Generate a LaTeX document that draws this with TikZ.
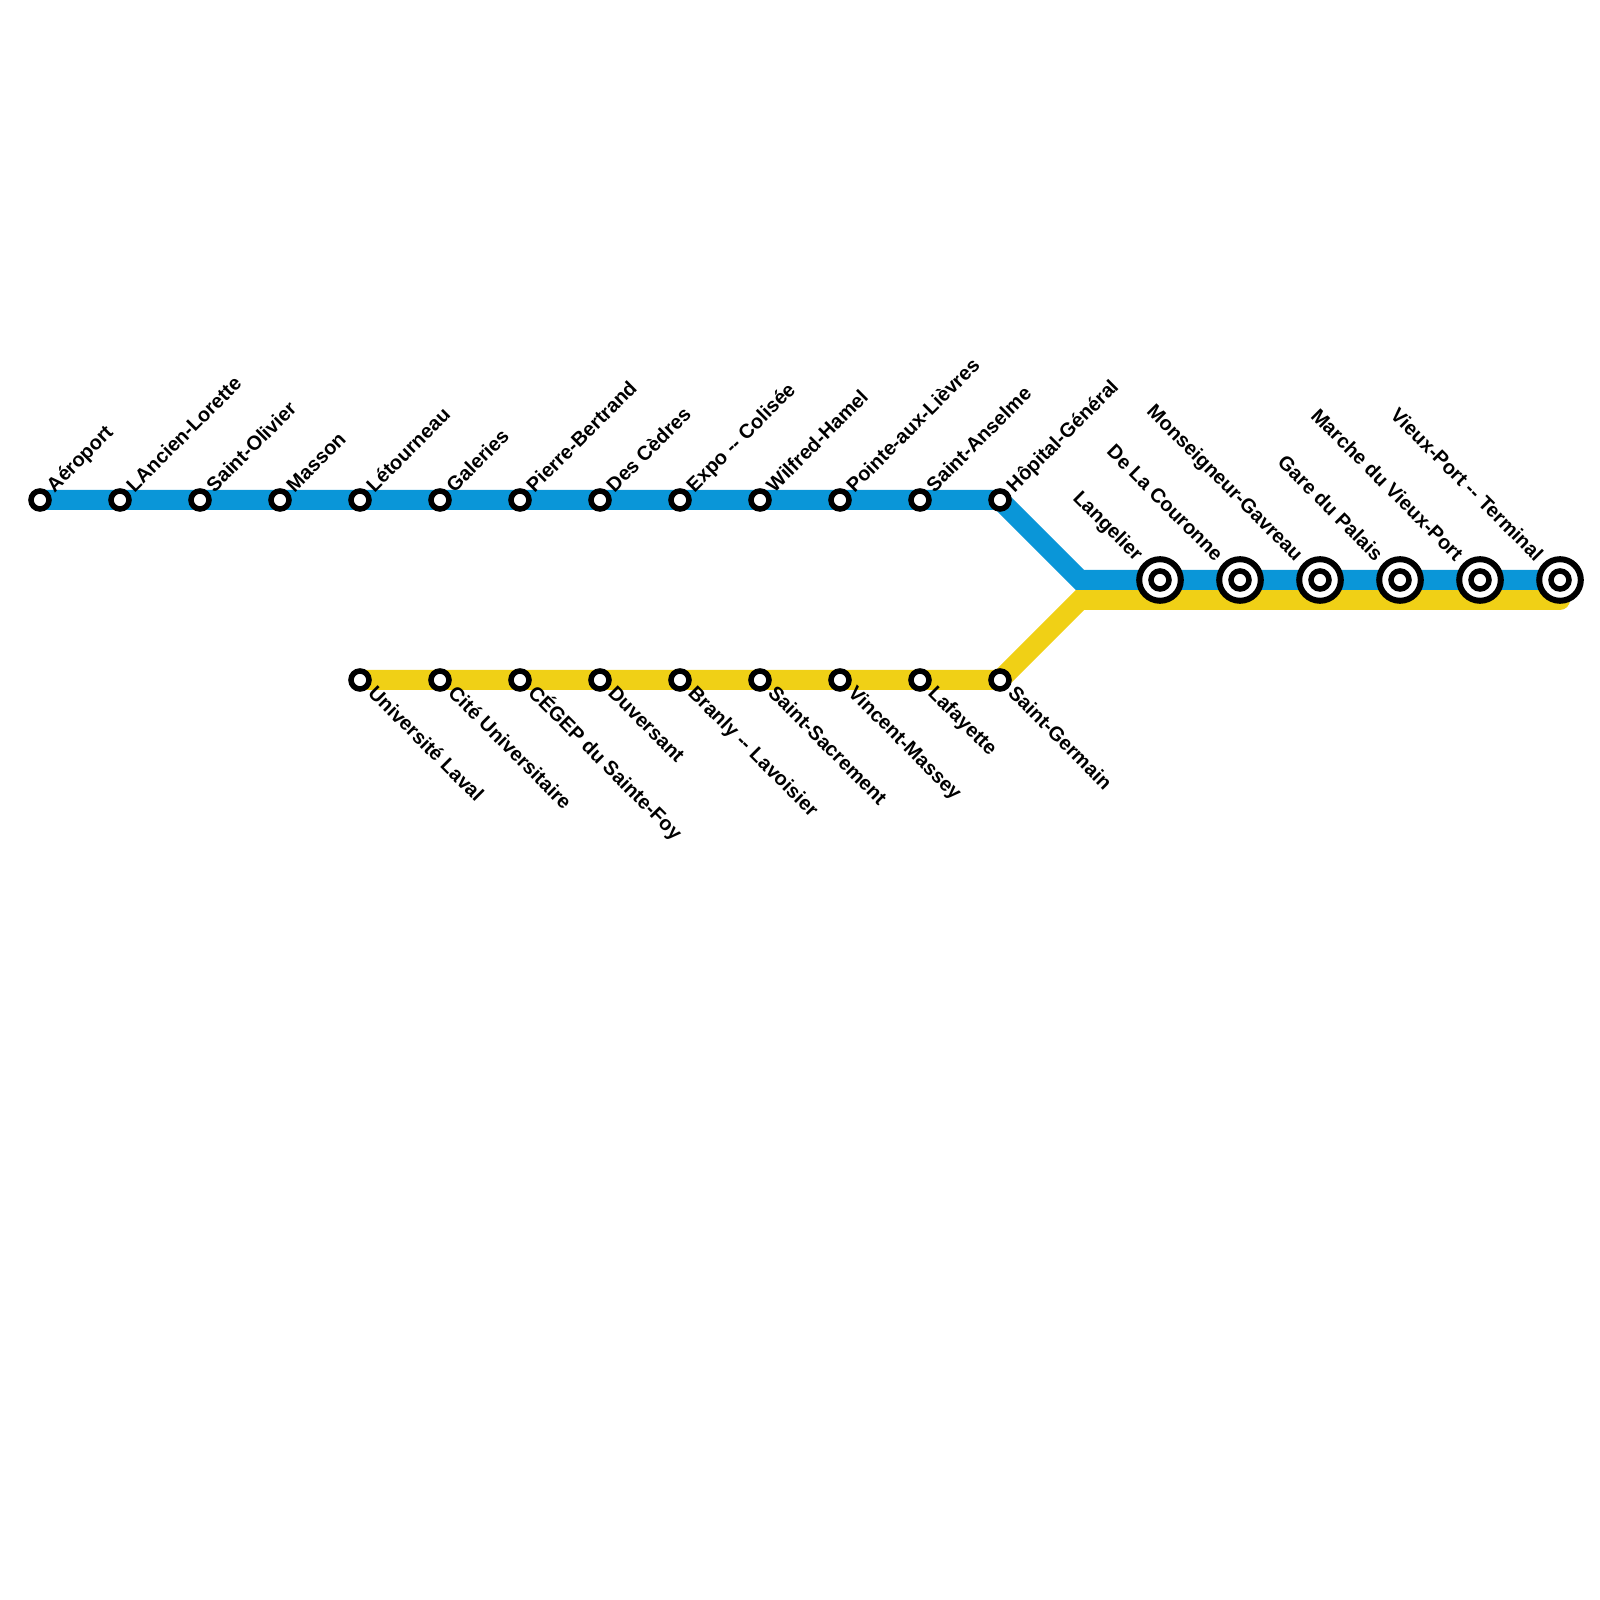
\documentclass[tikz,border=0pt]{standalone}
\usepackage{fontspec}
\setmainfont{Liberation Sans}
\usetikzlibrary{backgrounds}
\definecolor{lineblue}{HTML}{0A96D8}
\definecolor{lineyellow}{HTML}{F0D016}

\begin{document}
\begin{tikzpicture}[font=\fontsize{7.1}{8}\selectfont\bfseries,
  stop/.style={circle, draw=black, line width=0.069cm, fill=white, minimum size=0.225cm, inner sep=0pt},
  hub/.style={circle, draw=black, line width=0.075cm, fill=white, minimum size=0.52cm, inner sep=0pt},
  route/.style={line width=0.25cm, line cap=round, line join=miter},
  up/.style={rotate=45, anchor=base west, inner sep=0pt},
  down/.style={rotate=-45, anchor=base west, inner sep=0pt},
  back/.style={rotate=-45, anchor=base east, inner sep=0pt},
]
\useasboundingbox (0, 0) rectangle (20, 20);
% upper branch
\foreach \i/\name in {0/Aéroport, 1/LAncien-Lorette, 2/Saint-Olivier, 3/Masson,
    4/Létourneau, 5/Galeries, 6/Pierre-Bertrand, 7/Des Cèdres, 8/Expo -{}- Colisée,
    9/Wilfred-Hamel, 10/Pointe-aux-Lièvres, 11/Saint-Anselme, 12/Hôpital-Général} {
  \node[stop] (b\i) at (\i+0.5, 13.75) {};
  \node[up] (bl\i) at (\i+0.677, 13.83) {\name};
}
% lower branch
\foreach \i/\name in {4/Université Laval, 5/Cité Universitaire, 6/CÉGEP du Sainte-Foy,
    7/Duversant, 8/Branly -{}- Lavoisier, 9/Saint-Sacrement, 10/Vincent-Massey,
    11/Lafayette, 12/Saint-Germain} {
  \node[stop] (y\i) at (\i+0.5, 11.5) {};
  \node[down] (yl\i) at (\i+0.585, 11.325) {\name};
}
% shared section
\foreach \i/\name in {14/Langelier, 15/De La Couronne, 16/Monseigneur-Gavreau,
    17/Gare du Palais, 18/Marche du Vieux-Port, 19/Vieux-Port -{}- Terminal} {
  \node[hub] (t\i) at (\i+0.5, 12.75) {};
  \node[stop] (c\i) at (\i+0.5, 12.75) {};
  \node[back] (tl\i) at (\i+0.19, 12.97) {\name};
}
\coordinate (bj) at (13.5, 12.75);
\coordinate (yj) at (13.5, 12.5);
\coordinate (ye) at (19.5, 12.5);
\begin{scope}[on background layer]
\draw[route, lineyellow] (y4.center) -- (y12.center) -- (yj) -- (ye);
\draw[route, lineblue] (b0.center) -- (b12.center) -- (bj) -- (t19.center);
\end{scope}
\end{tikzpicture}
\end{document}
